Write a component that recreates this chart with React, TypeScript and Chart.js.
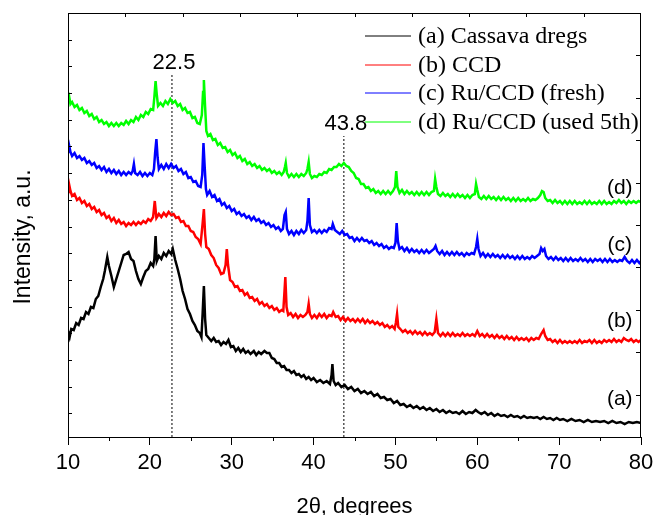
import React, { useEffect, useRef } from 'react';
import { Chart, registerables } from 'chart.js';

Chart.register(...registerables);

const seriesLabels = ['(a) Cassava dregs', '(b) CCD', '(c) Ru/CCD (fresh)', '(d) Ru/CCD (used 5th)'];
const seriesColors = ['#000000', '#ff0000', '#0000ff', '#00ff00'];
const curveTags = ['(a)', '(b)', '(c)', '(d)'];
const curveTagLevels = [38, 116, 192, 249];
const xTicks = [10, 20, 30, 40, 50, 60, 70, 80];
const peakPositions = [22.7, 43.7];
const peakLabels = ['22.5', '43.8'];
const peakLineTops = [362, 301];

const cassavaDregs: [number, number][] = [[10.0,106],[10.2,100],[10.4,108],[10.7,107],[11.0,114],[11.3,112],[11.6,119],[11.9,118],[12.2,125],[12.5,123],[12.8,130],[13.1,129],[13.4,138],[13.7,141],[14.0,150],[14.3,158],[14.5,166],[14.8,180],[15.0,171],[15.3,161],[15.6,150],[15.9,158],[16.2,166],[16.5,174],[16.8,182],[17.1,183],[17.4,185],[17.7,178],[18.0,176],[18.3,166],[18.6,158],[18.9,153],[19.2,160],[19.5,166],[19.8,168],[20.1,174],[20.4,171],[20.55,178],[20.7,201],[20.85,176],[21.1,181],[21.4,178],[21.7,184],[22.0,181],[22.3,186],[22.6,183],[22.8,188],[23.1,177],[23.4,168],[23.7,158],[24.0,146],[24.3,138],[24.6,128],[24.9,123],[25.2,116],[25.5,112],[25.8,106],[26.1,104],[26.3,100],[26.45,124],[26.6,151],[26.75,118],[26.9,102],[27.2,99],[27.5,96],[27.8,99],[28.1,95],[28.4,96],[28.7,92],[29.0,95],[29.3,93],[29.6,97],[29.9,90],[30.2,91],[30.5,86],[30.8,89],[31.1,85],[31.4,88],[31.7,84],[32.0,86],[32.3,83],[32.7,86],[33.0,82],[33.3,85],[33.6,83],[34.0,86],[34.3,84],[34.6,84],[34.9,79],[35.2,78],[35.5,74],[35.8,74],[36.1,70],[36.4,71],[36.7,67],[37.0,67],[37.3,64],[37.6,66],[37.9,62],[38.2,63],[38.5,60],[38.8,62],[39.1,58],[39.4,60],[39.7,57],[40.0,59],[40.4,55],[40.8,57],[41.2,54],[41.6,56],[42.0,53],[42.2,62],[42.3,73],[42.45,56],[42.7,52],[43.0,54],[43.4,50],[43.8,52],[44.2,48],[44.6,50],[45.0,46],[45.4,48],[45.8,44],[46.2,46],[46.6,43],[47.0,45],[47.4,41],[47.8,43],[48.2,39],[48.6,40],[49.0,37],[49.4,38],[49.8,34],[50.2,36],[50.6,32],[51.0,33],[51.4,30],[51.8,32],[52.2,29],[52.6,31],[53.0,28],[53.4,30],[53.8,27],[54.2,29],[54.6,26],[55.0,28],[55.4,25],[55.8,27],[56.2,24],[56.6,26],[57.0,24],[57.4,25],[57.8,23],[58.2,26],[58.6,23],[59.0,25],[59.4,24],[59.8,27],[60.1,25],[60.5,23],[60.9,25],[61.3,22],[61.7,24],[62.1,21],[62.5,23],[62.9,21],[63.3,22],[63.7,20],[64.1,22],[64.5,20],[64.9,21],[65.3,19],[65.7,21],[66.1,19],[66.5,20],[66.9,19],[67.3,20],[67.7,18],[68.1,20],[68.5,18],[68.9,19],[69.3,17],[69.7,19],[70.1,17],[70.5,18],[71.0,16],[71.5,18],[72.0,16],[72.5,17],[73.0,15],[73.5,17],[74.0,15],[74.5,16],[75.0,15],[75.5,16],[76.0,14],[76.5,16],[77.0,14],[77.5,15],[78.0,13],[78.5,15],[79.0,14],[79.5,15],[80.0,14]];

const ccd: [number, number][] = [[10.0,243],[10.15,252],[10.3,246],[10.5,241],[10.8,243],[11.1,237],[11.4,239],[11.7,234],[12.0,236],[12.3,231],[12.6,233],[12.9,228],[13.2,230],[13.5,225],[13.8,227],[14.1,222],[14.4,224],[14.7,219],[15.0,221],[15.3,216],[15.6,219],[15.9,214],[16.2,217],[16.5,213],[16.8,215],[17.1,211],[17.4,214],[17.7,212],[18.0,215],[18.3,212],[18.6,215],[18.9,213],[19.2,216],[19.5,214],[19.8,218],[20.1,216],[20.4,220],[20.6,236],[20.8,219],[21.1,223],[21.4,220],[21.7,224],[22.0,221],[22.3,225],[22.6,222],[22.9,223],[23.2,219],[23.5,220],[23.8,215],[24.1,216],[24.4,211],[24.7,211],[25.0,206],[25.3,205],[25.6,200],[25.9,198],[26.2,193],[26.45,214],[26.6,228],[26.75,203],[26.9,190],[27.2,188],[27.5,182],[27.8,179],[28.1,172],[28.4,169],[28.7,163],[29.0,164],[29.25,172],[29.4,188],[29.55,172],[29.8,157],[30.1,155],[30.4,150],[30.7,151],[31.0,146],[31.3,147],[31.6,142],[31.9,144],[32.2,139],[32.5,140],[32.8,136],[33.1,138],[33.4,133],[33.7,135],[34.0,131],[34.3,133],[34.6,129],[34.9,131],[35.2,127],[35.5,129],[35.8,125],[36.1,127],[36.3,126],[36.45,146],[36.55,160],[36.7,130],[36.9,122],[37.2,124],[37.5,120],[37.8,123],[38.1,119],[38.4,122],[38.7,120],[39.0,122],[39.25,125],[39.4,133],[39.55,123],[39.8,119],[40.1,122],[40.4,119],[40.7,123],[41.0,120],[41.3,123],[41.6,119],[41.9,122],[42.2,121],[42.4,125],[42.7,120],[43.0,121],[43.3,117],[43.6,120],[43.9,116],[44.2,119],[44.5,116],[44.8,118],[45.1,115],[45.4,118],[45.7,115],[46.0,118],[46.3,114],[46.6,117],[46.9,114],[47.2,116],[47.5,113],[47.8,115],[48.1,112],[48.4,114],[48.7,110],[49.0,112],[49.3,109],[49.6,111],[49.9,108],[50.05,114],[50.2,123],[50.35,110],[50.6,108],[50.9,105],[51.2,107],[51.5,104],[51.8,106],[52.1,103],[52.4,106],[52.7,103],[53.0,105],[53.3,102],[53.6,105],[53.9,102],[54.2,104],[54.5,102],[54.8,105],[55.0,118],[55.2,104],[55.5,101],[55.8,104],[56.1,101],[56.4,104],[56.7,101],[57.0,104],[57.3,101],[57.6,103],[57.9,101],[58.2,104],[58.5,101],[58.8,103],[59.1,101],[59.4,103],[59.7,101],[60.0,106],[60.3,101],[60.6,103],[60.9,100],[61.2,103],[61.5,100],[61.8,102],[62.1,99],[62.4,102],[62.7,99],[63.0,101],[63.3,98],[63.6,101],[63.9,98],[64.2,100],[64.5,97],[64.8,100],[65.1,97],[65.4,99],[65.7,97],[66.0,99],[66.3,96],[66.6,99],[66.9,97],[67.2,99],[67.5,98],[67.8,103],[68.1,107],[68.3,101],[68.6,97],[68.9,98],[69.2,95],[69.5,97],[69.8,94],[70.1,97],[70.4,94],[70.7,96],[71.0,94],[71.3,96],[71.6,94],[71.9,96],[72.2,94],[72.5,97],[72.8,94],[73.1,96],[73.4,95],[73.7,97],[74.0,94],[74.3,97],[74.6,94],[74.9,96],[75.2,94],[75.5,97],[75.8,95],[76.1,97],[76.4,95],[76.7,98],[77.0,95],[77.3,97],[77.6,95],[77.9,99],[78.2,97],[78.5,96],[78.8,98],[79.1,95],[79.4,97],[79.7,95],[80.0,97]];

const ruCcdFresh: [number, number][] = [[10.0,284],[10.15,291],[10.3,285],[10.5,281],[10.8,284],[11.1,279],[11.4,281],[11.7,277],[12.0,279],[12.3,274],[12.6,276],[12.9,272],[13.2,274],[13.5,269],[13.8,271],[14.1,267],[14.4,270],[14.7,265],[15.0,268],[15.3,264],[15.6,267],[15.9,263],[16.2,266],[16.5,262],[16.8,265],[17.1,262],[17.4,265],[17.7,263],[17.9,266],[18.05,273],[18.2,264],[18.5,262],[18.8,265],[19.1,261],[19.4,264],[19.7,261],[20.0,264],[20.3,262],[20.5,268],[20.65,285],[20.8,298],[20.95,279],[21.1,268],[21.4,272],[21.7,268],[22.0,273],[22.3,269],[22.6,273],[22.9,269],[23.2,271],[23.5,266],[23.8,268],[24.1,263],[24.4,265],[24.7,259],[25.0,260],[25.3,255],[25.6,256],[25.9,251],[26.2,250],[26.4,262],[26.55,294],[26.7,270],[26.85,248],[27.0,242],[27.3,246],[27.6,240],[27.9,242],[28.2,236],[28.5,238],[28.8,232],[29.1,234],[29.4,229],[29.7,231],[30.0,226],[30.3,228],[30.6,223],[30.9,225],[31.2,221],[31.5,223],[31.8,219],[32.1,221],[32.4,217],[32.7,220],[33.0,216],[33.3,218],[33.6,214],[33.9,216],[34.2,212],[34.5,214],[34.8,210],[35.1,212],[35.4,208],[35.7,210],[36.0,206],[36.25,208],[36.45,222],[36.6,225],[36.75,208],[37.0,203],[37.3,206],[37.6,202],[37.9,206],[38.2,203],[38.5,207],[38.8,204],[39.1,207],[39.25,216],[39.4,239],[39.55,212],[39.8,205],[40.1,207],[40.4,204],[40.7,207],[41.0,204],[41.3,207],[41.6,205],[41.9,209],[42.2,208],[42.35,213],[42.6,207],[42.9,205],[43.2,203],[43.5,206],[43.8,202],[44.1,203],[44.4,199],[44.7,200],[45.0,196],[45.3,199],[45.6,196],[45.9,199],[46.2,196],[46.5,197],[46.8,194],[47.1,196],[47.4,192],[47.7,194],[48.0,191],[48.3,193],[48.6,189],[48.9,191],[49.2,188],[49.5,190],[49.8,189],[50.0,194],[50.15,214],[50.3,196],[50.5,188],[50.8,190],[51.1,186],[51.4,189],[51.7,185],[52.0,188],[52.3,185],[52.6,187],[52.9,184],[53.2,187],[53.5,184],[53.8,187],[54.1,184],[54.4,186],[54.7,188],[54.9,191],[55.1,186],[55.4,183],[55.7,186],[56.0,182],[56.3,185],[56.6,182],[56.9,185],[57.2,182],[57.5,185],[57.8,182],[58.1,184],[58.4,181],[58.7,184],[59.0,182],[59.3,184],[59.6,183],[59.85,190],[60.0,198],[60.15,188],[60.4,181],[60.7,184],[61.0,180],[61.3,183],[61.6,180],[61.9,183],[62.2,180],[62.5,182],[62.8,179],[63.1,182],[63.4,179],[63.7,182],[64.0,179],[64.3,181],[64.6,178],[64.9,181],[65.2,178],[65.5,181],[65.8,178],[66.1,180],[66.4,178],[66.7,181],[67.0,179],[67.3,181],[67.6,183],[67.8,189],[68.0,186],[68.2,188],[68.4,181],[68.7,178],[69.0,180],[69.3,177],[69.6,180],[69.9,177],[70.2,179],[70.5,176],[70.8,179],[71.1,176],[71.4,179],[71.7,176],[72.0,178],[72.3,176],[72.6,179],[72.9,176],[73.2,178],[73.5,175],[73.8,178],[74.1,175],[74.4,178],[74.7,176],[75.0,178],[75.3,175],[75.6,178],[75.9,175],[76.2,178],[76.5,175],[76.8,177],[77.1,175],[77.4,177],[77.7,176],[78.0,180],[78.3,176],[78.6,174],[78.9,177],[79.2,174],[79.5,177],[79.8,174],[80.0,176]];

const ruCcdUsed5th: [number, number][] = [[10.0,336],[10.15,340],[10.3,333],[10.5,335],[10.8,330],[11.1,332],[11.4,327],[11.7,329],[12.0,324],[12.3,326],[12.6,321],[12.9,323],[13.2,318],[13.5,320],[13.8,315],[14.1,317],[14.4,313],[14.7,315],[15.0,311],[15.3,314],[15.6,311],[15.9,314],[16.2,311],[16.5,314],[16.8,312],[17.1,316],[17.4,313],[17.7,317],[18.0,315],[18.3,320],[18.6,317],[18.9,322],[19.2,320],[19.5,325],[19.8,323],[20.1,328],[20.4,327],[20.55,340],[20.7,356],[20.85,342],[21.0,331],[21.3,334],[21.6,331],[21.9,336],[22.2,333],[22.5,338],[22.8,334],[23.1,336],[23.4,331],[23.7,333],[24.0,327],[24.3,329],[24.6,324],[24.9,325],[25.2,319],[25.5,320],[25.8,314],[26.1,313],[26.35,322],[26.5,345],[26.6,357],[26.75,330],[26.9,306],[27.1,301],[27.4,303],[27.7,297],[28.0,298],[28.3,292],[28.6,294],[28.9,289],[29.2,290],[29.5,285],[29.8,287],[30.1,282],[30.4,284],[30.7,279],[31.0,281],[31.3,276],[31.6,278],[31.9,273],[32.2,275],[32.5,271],[32.8,273],[33.1,269],[33.4,271],[33.7,267],[34.0,269],[34.3,266],[34.6,268],[34.9,264],[35.2,266],[35.5,263],[35.8,265],[36.1,262],[36.35,265],[36.5,270],[36.6,274],[36.75,264],[37.0,260],[37.3,263],[37.6,260],[37.9,263],[38.2,260],[38.5,263],[38.8,261],[39.1,264],[39.25,268],[39.4,275],[39.55,263],[39.8,259],[40.1,261],[40.4,260],[40.7,263],[41.0,262],[41.3,265],[41.6,264],[41.9,268],[42.2,267],[42.5,270],[42.8,270],[43.1,273],[43.4,271],[43.7,274],[44.0,271],[44.3,270],[44.6,266],[44.9,264],[45.2,259],[45.5,258],[45.8,253],[46.1,253],[46.4,249],[46.7,250],[47.0,246],[47.3,248],[47.6,244],[47.9,246],[48.2,243],[48.5,246],[48.8,243],[49.1,246],[49.4,243],[49.7,246],[49.95,250],[50.1,266],[50.25,250],[50.5,244],[50.8,247],[51.1,243],[51.4,246],[51.7,243],[52.0,245],[52.3,242],[52.6,245],[52.9,242],[53.2,245],[53.5,242],[53.8,245],[54.1,242],[54.4,245],[54.7,246],[54.85,258],[55.0,250],[55.2,243],[55.5,241],[55.8,244],[56.1,241],[56.4,243],[56.7,240],[57.0,243],[57.3,240],[57.6,243],[57.9,240],[58.2,242],[58.5,239],[58.8,242],[59.1,239],[59.4,242],[59.7,243],[59.85,253],[60.0,247],[60.2,240],[60.5,238],[60.8,241],[61.1,238],[61.4,241],[61.7,238],[62.0,240],[62.3,237],[62.6,240],[62.9,237],[63.2,240],[63.5,237],[63.8,239],[64.1,236],[64.4,239],[64.7,236],[65.0,239],[65.3,236],[65.6,238],[65.9,236],[66.2,239],[66.5,236],[66.8,238],[67.1,237],[67.4,239],[67.7,242],[67.9,246],[68.1,245],[68.3,239],[68.6,236],[68.9,237],[69.2,234],[69.5,237],[69.8,234],[70.1,236],[70.4,233],[70.7,236],[71.0,233],[71.3,236],[71.6,233],[71.9,236],[72.2,233],[72.5,235],[72.8,233],[73.1,236],[73.4,233],[73.7,236],[74.0,233],[74.3,235],[74.6,233],[74.9,236],[75.2,233],[75.5,236],[75.8,233],[76.1,235],[76.4,233],[76.7,236],[77.0,234],[77.3,237],[77.6,234],[77.9,236],[78.2,233],[78.5,236],[78.8,234],[79.1,236],[79.4,234],[79.7,236],[80.0,235]];

const seriesData = [cassavaDregs, ccd, ruCcdFresh, ruCcdUsed5th];

const SANS = '"Liberation Sans", Arial, sans-serif';
const SERIF = '"Liberation Serif", "Times New Roman", serif';
const TAG_X = 77.4;

const decorPlugin = {
  id: 'decor',
  afterDraw(chart: any) {
    const { ctx, chartArea: a, scales } = chart;
    const xs = scales.x;
    const ys = scales.y;
    ctx.save();
    ctx.strokeStyle = '#000';
    ctx.lineWidth = 1;
    // frame
    ctx.strokeRect(Math.round(a.left) + 0.5, Math.round(a.top) + 0.5, Math.round(a.right - a.left) - 1, Math.round(a.bottom - a.top));
    ctx.beginPath();
    // minor bottom ticks
    for (let v = 15; v < 80; v += 10) {
      const px = Math.round(xs.getPixelForValue(v)) + 0.5;
      ctx.moveTo(px, a.bottom);
      ctx.lineTo(px, a.bottom + 4);
    }
    // top inner ticks
    for (let v = 17; v < 80; v += 7) {
      const px = Math.round(xs.getPixelForValue(v)) + 0.5;
      ctx.moveTo(px, a.top);
      ctx.lineTo(px, a.top + 4);
    }
    // left inner ticks
    for (let v = ys.max - 26.7; v > ys.min; v -= 26.7) {
      const py = Math.round(ys.getPixelForValue(v)) + 0.5;
      ctx.moveTo(a.left, py);
      ctx.lineTo(a.left + 4, py);
    }
    // right inner ticks
    for (let v = ys.max - 42.4; v > ys.min; v -= 42.4) {
      const py = Math.round(ys.getPixelForValue(v)) + 0.5;
      ctx.moveTo(a.right - 1, py);
      ctx.lineTo(a.right - 5, py);
    }
    ctx.stroke();

    // peak labels
    ctx.fillStyle = '#000';
    ctx.font = `22px ${SANS}`;
    ctx.textAlign = 'center';
    ctx.textBaseline = 'middle';
    peakLabels.forEach((t, i) => {
      ctx.fillText(t, xs.getPixelForValue(peakPositions[i]) + 2, ys.getPixelForValue(peakLineTops[i]) - 12);
    });

    // curve tags
    ctx.font = `21px ${SANS}`;
    curveTags.forEach((t, i) => {
      ctx.fillText(t, xs.getPixelForValue(TAG_X), ys.getPixelForValue(curveTagLevels[i]));
    });

    // legend
    ctx.textAlign = 'left';
    ctx.font = `24px ${SERIF}`;
    const lx = a.left + 297;
    seriesLabels.forEach((label, i) => {
      const ly = a.top + 23 + i * 28.6;
      ctx.strokeStyle = seriesColors[i];
      ctx.lineWidth = 1;
      ctx.beginPath();
      ctx.moveTo(lx, Math.round(ly));
      ctx.lineTo(lx + 46, Math.round(ly));
      ctx.stroke();
      ctx.fillStyle = '#000';
      ctx.fillText(label, lx + 53, ly + 1);
    });

    // y title
    ctx.save();
    ctx.translate(24, (a.top + a.bottom) / 2 + 12);
    ctx.rotate(-Math.PI / 2);
    ctx.textAlign = 'center';
    ctx.font = `23px ${SANS}`;
    ctx.fillText('Intensity, a.u.', 0, 0);
    ctx.restore();

    ctx.restore();
  },
};

export default function App() {
  const canvasRef = useRef<HTMLCanvasElement | null>(null);

  useEffect(() => {
    document.body.style.margin = '0';
    const canvas = canvasRef.current;
    if (!canvas) return;

    const datasets: any[] = seriesData.map((d, i) => ({
      label: seriesLabels[i],
      data: d,
      borderColor: seriesColors[i],
      backgroundColor: seriesColors[i],
      borderWidth: 2.5,
      pointRadius: 0,
      tension: 0,
      fill: false,
    }));
    peakPositions.forEach((p, i) => {
      datasets.push({
        label: 'peak ' + peakLabels[i],
        data: [[p, 0], [p, peakLineTops[i]]],
        borderColor: '#000',
        borderWidth: 1,
        borderDash: [2, 2],
        pointRadius: 0,
        fill: false,
      });
    });

    const chart = new Chart(canvas, {
      type: 'line',
      data: { datasets },
      options: {
        animation: false,
        responsive: false,
        events: [],
        layout: { padding: { top: 13, right: 14, left: 0, bottom: 0 } },
        plugins: { legend: { display: false }, tooltip: { enabled: false } },
        scales: {
          x: {
            type: 'linear',
            min: 10,
            max: 80,
            afterFit(s: any) {
              s.height = 78;
              s.paddingLeft = 0;
              s.paddingRight = 0;
            },
            afterBuildTicks(s: any) {
              s.ticks = xTicks.map((v) => ({ value: v }));
            },
            ticks: {
              color: '#000',
              font: { family: SANS, size: 22 },
              padding: 5,
              maxRotation: 0,
              autoSkip: false,
            },
            grid: { drawOnChartArea: false, drawTicks: true, tickLength: 8, color: '#000', lineWidth: 1 },
            border: { display: true, color: '#000', width: 1 },
            title: {
              display: true,
              text: '2θ, degrees',
              color: '#000',
              font: { family: SANS, size: 22 },
              padding: { top: 0, bottom: -5 },
            },
          },
          y: {
            type: 'linear',
            min: 0,
            max: 424,
            afterFit(s: any) {
              s.width = 68;
            },
            ticks: { display: false },
            grid: { display: false },
            border: { display: true, color: '#000', width: 1 },
          },
        },
      },
      plugins: [decorPlugin],
    } as any);

    return () => chart.destroy();
  }, []);

  return (
    <div style={{ width: 655, height: 515, background: '#fff' }}>
      <canvas ref={canvasRef} width={655} height={515} />
    </div>
  );
}
